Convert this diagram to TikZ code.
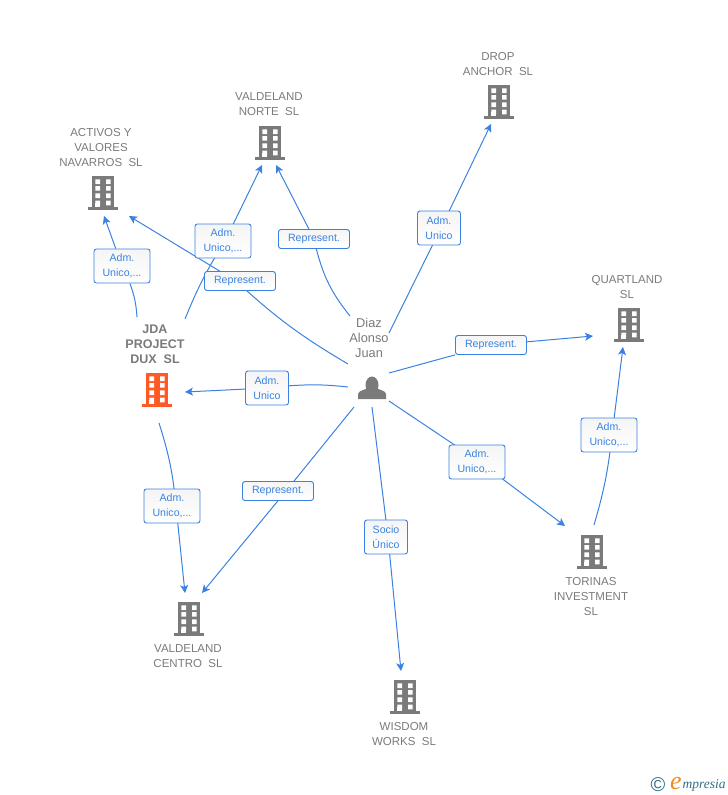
\documentclass[tikz,border=0pt]{standalone}
\usepackage{fontspec}
\setmainfont{Liberation Sans}
\newfontfamily\logofont{Liberation Serif}
\usetikzlibrary{arrows.meta,backgrounds}
\definecolor{linkblue}{HTML}{3B82E0}
\definecolor{inkgray}{HTML}{7A7A7A}
\definecolor{firmred}{HTML}{FF5A26}
\definecolor{logoteal}{HTML}{2F6F86}
\definecolor{logoorange}{HTML}{F28A1E}
\tikzset{
  firm/.style={text=inkgray, align=center, inner sep=0pt, font=\fontsize{11.5}{15}\selectfont},
  role/.style={draw=linkblue, line width=0.9pt, rounded corners=2.5pt, top color=gray!8, bottom color=white, text=linkblue, align=center, inner xsep=0pt, inner ysep=0pt, font=\fontsize{10.6}{15}\selectfont},
  wide/.style={role, minimum width=56, minimum height=34},
  narrow/.style={role, minimum width=43, minimum height=34},
  flat/.style={role, minimum width=71, minimum height=19},
  link/.style={linkblue, line width=1pt},
  tower/.pic={
    \fill[pic actions] (-11,-17) rectangle (11,14);
    \fill[pic actions] (-15,14) rectangle (15,17);
    \foreach \ya in {-11.3,-4.7,2.7,10}
      \fill[white] (-7.7,\ya-2.3) rectangle (-3,\ya+2.3) (3,\ya-2.3) rectangle (7.7,\ya+2.3);
    \fill[white] (-7.7,10) rectangle (-3,14);
  }
}
\begin{document}
\begin{tikzpicture}[x=1pt, y=-1pt, >={Stealth[length=8pt, width=8pt, inset=2pt]}]
    \useasboundingbox (0,0) rectangle (728,795);

    % The companies
    \pic[fill=inkgray] at (103,193) {tower};
    \pic[fill=inkgray] at (270,143) {tower};
    \pic[fill=inkgray] at (499,102) {tower};
    \pic[fill=inkgray] at (629,325) {tower};
    \pic[fill=firmred] at (157,390) {tower};
    \pic[fill=inkgray] at (592,552) {tower};
    \pic[fill=inkgray] at (189,619) {tower};
    \pic[fill=inkgray] at (405,697) {tower};

    \node (activos) at (101,148) [firm] {ACTIVOS Y\\VALORES\\NAVARROS~~SL};
    \node (norte) at (269,104.5) [firm] {VALDELAND\\NORTE~~SL};
    \node (drop) at (498,64.5) [firm] {DROP\\ANCHOR~~SL};
    \node (quartland) at (627,287.5) [firm] {QUARTLAND\\SL};
    \node (jda) at (155,344.5) [firm, font=\fontsize{12.5}{15}\selectfont\bfseries] {JDA\\PROJECT\\DUX~~SL};
    \node (torinas) at (591,597) [firm] {TORINAS\\INVESTMENT\\SL};
    \node (centro) at (188,656.5) [firm] {VALDELAND\\CENTRO~~SL};
    \node (wisdom) at (404,734.5) [firm] {WISDOM\\WORKS~~SL};

    % The person
    \fill[inkgray] (372,385) ellipse (6.5 and 8.5);
    \fill[inkgray] (358,399) -- (358,394) .. controls (359,390) and (365,390) .. (368,388) -- (376,388) .. controls (379,390) and (385,390) .. (386,394) -- (386,399) -- cycle;
    \node (diaz) at (369,338) [firm, font=\fontsize{12.8}{15}\selectfont] {Diaz\\Alonso\\Juan};

    % Free ends of the links
    \coordinate (jdaL) at (137,317);
    \coordinate (jdaR) at (185,319);
    \coordinate (jdaW) at (185,392);
    \coordinate (jdaS) at (159,423);
    \coordinate (activosA) at (104,216);
    \coordinate (activosB) at (129,216);
    \coordinate (norteA) at (262,165);
    \coordinate (norteB) at (276,165);
    \coordinate (dropA) at (491,124);
    \coordinate (quartA) at (593,336);
    \coordinate (quartB) at (623,347);
    \coordinate (torinasA) at (565,526);
    \coordinate (torinasB) at (594,525);
    \coordinate (centroA) at (185,593);
    \coordinate (centroB) at (202,593);
    \coordinate (wisdomA) at (401,671);
    \coordinate (pNW) at (348,364);
    \coordinate (pN) at (350,316);
    \coordinate (pNE) at (389,333);
    \coordinate (pE) at (389,373);
    \coordinate (pSE) at (389,401);
    \coordinate (pS) at (372,407);
    \coordinate (pSW) at (354,407);
    \coordinate (pW) at (348,387);

    % The labels
    \node (admA) at (122,266) [wide] {Adm.\\Unico,...};
    \node (admB) at (223,241) [wide] {Adm.\\Unico,...};
    \node (repA) at (240,281) [flat] {Represent.};
    \node (repB) at (314,239) [flat] {Represent.};
    \node (admC) at (439,228) [narrow] {Adm.\\Unico};
    \node (repC) at (491,345) [flat] {Represent.};
    \node (admD) at (267,388) [narrow] {Adm.\\Unico};
    \node (admE) at (609,435) [wide] {Adm.\\Unico,...};
    \node (admF) at (477,462) [wide] {Adm.\\Unico,...};
    \node (admG) at (172,506) [wide] {Adm.\\Unico,...};
    \node (repD) at (278,491) [flat] {Represent.};
    \node (socio) at (386,537) [narrow] {Socio\\Único};

    % Links, each broken by its label
    \begin{pgfonlayer}{background}
    \draw[link] (jdaL) to [bend right=8] (admA);
    \draw[link, ->] (admA) -- (activosA);
    \draw[link] (jdaR) to [bend left=5] ([xshift=2]admB.center);
    \draw[link, ->] ([xshift=2]admB.center) -- (norteA);
    \draw[link] (pNW) to [bend left=6] ([xshift=-4]repA.center);
    \draw[link, ->] ([xshift=-4]repA.center) -- (activosB);
    \draw[link] (pN) to [bend left=12] (repB);
    \draw[link, ->] (repB) -- (norteB);
    \draw[link] (pNE) -- ([xshift=2]admC.center);
    \draw[link, ->] ([xshift=2]admC.center) -- (dropA);
    \draw[link] (pE) -- (repC);
    \draw[link, ->] (repC) -- (quartA);
    \draw[link] (torinasB) to [bend right=5] ([xshift=3]admE.center);
    \draw[link, ->] ([xshift=3]admE.center) -- (quartB);
    \draw[link] (pSE) -- ([xshift=3]admF.center);
    \draw[link, ->] ([xshift=3]admF.center) -- (torinasA);
    \draw[link] (pS) -- ([xshift=2]socio.center);
    \draw[link, ->] ([xshift=2]socio.center) -- (wisdomA);
    \draw[link] (pSW) -- ([xshift=8]repD.center);
    \draw[link, ->] ([xshift=8]repD.center) -- (centroB);
    \draw[link] (jdaS) to [bend left=6] ([xshift=4]admG.center);
    \draw[link, ->] ([xshift=4]admG.center) -- (centroA);
    \draw[link] (pW) to [bend right=5] (admD);
    \draw[link, ->] (admD) -- (jdaW);
    \end{pgfonlayer}

    % Logo
    \node (copyr) at (658,785) [text=logoteal, inner sep=0pt, font=\fontsize{20}{20}\selectfont] {©};
    \node (logoe) at (676,783) [text=logoorange, inner sep=0pt, font=\logofont\fontsize{26}{26}\selectfont\itshape] {e};
    \node (logot) at (704,785) [text=logoteal, inner sep=0pt, font=\logofont\fontsize{13.5}{14}\selectfont\itshape] {mpresia};
\end{tikzpicture}
\end{document}
